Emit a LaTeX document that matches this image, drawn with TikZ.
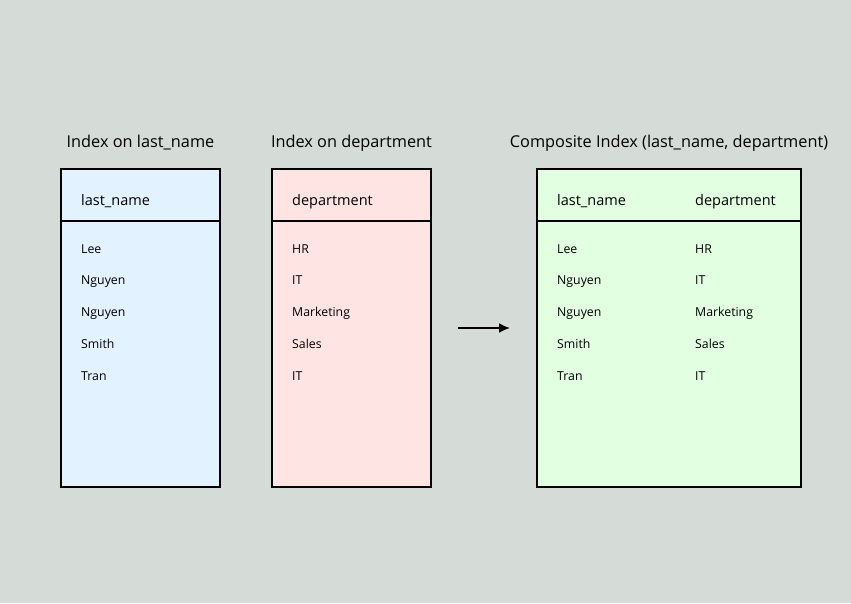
\documentclass[tikz,border=0pt]{standalone}
\usepackage{fontspec}
\setmainfont{Open Sans}
\usetikzlibrary{positioning,arrows.meta}
\definecolor{pagebg}{HTML}{D5DBD7}
\definecolor{lastfill}{HTML}{E3F2FF}
\definecolor{deptfill}{HTML}{FFE4E4}
\definecolor{compfill}{HTML}{E2FFE2}
\tikzset{
  tbl/.style={draw=black,line width=2pt,minimum height=318pt,anchor=north west,inner sep=0pt},
  ttl/.style={font=\fontsize{16.3}{19}\selectfont,inner sep=0pt,text height=1.6ex,text depth=.45ex},
  hdr/.style={font=\fontsize{14.5}{17}\selectfont,anchor=west,inner sep=0pt,text height=1.6ex,text depth=.45ex},
  cell/.style={font=\fontsize{12.3}{15}\selectfont,anchor=west,inner sep=0pt,text height=1.6ex,text depth=.45ex},
  arr/.style={line width=2pt,-{Latex[length=11pt,width=10pt]}}
}
\begin{document}
\begin{tikzpicture}[x=1pt,y=-1pt]
  \fill[pagebg] (0,0) rectangle (851,603);
  \useasboundingbox (0,0) rectangle (851,603);
  % the three index tables
  \node[tbl,fill=lastfill,minimum width=159pt] (lastbox) at (60,168) {};
  \node[tbl,fill=deptfill,minimum width=159pt] (deptbox) at (271,168) {};
  \node[tbl,fill=compfill,minimum width=264pt] (compbox) at (536,168) {};
  \foreach \b in {lastbox,deptbox,compbox}
    \draw[line width=2pt] ([yshift=-53pt]\b.north west) -- ([yshift=-53pt]\b.north east);
  % titles
  \node[ttl] (lasttitle) at ([yshift=24pt]lastbox.north) {Index on last\_name};
  \node[ttl] (depttitle) at ([yshift=24pt]deptbox.north) {Index on department};
  \node[ttl] (comptitle) at ([yshift=24pt]compbox.north) {Composite Index (last\_name, department)};
  % headers
  \node[hdr] (lasthdr) at ([xshift=21pt,yshift=-34pt]lastbox.north west) {last\_name};
  \node[hdr] (depthdr) at ([xshift=21pt,yshift=-34pt]deptbox.north west) {department};
  \node[hdr] (complhdr) at ([xshift=21pt,yshift=-34pt]compbox.north west) {last\_name};
  \node[hdr] (compdhdr) at ([xshift=159pt,yshift=-34pt]compbox.north west) {department};
  % rows
  \foreach \n/\d [count=\i] in {Lee/HR,Nguyen/IT,Nguyen/Marketing,Smith/Sales,Tran/IT}{
    \node[cell] (last\i) at ([yshift={-48pt-31.75pt*(\i-1)}]lasthdr.west) {\n};
    \node[cell] (dept\i) at ([yshift={-48pt-31.75pt*(\i-1)}]depthdr.west) {\d};
    \node[cell] (compl\i) at ([yshift={-48pt-31.75pt*(\i-1)}]complhdr.west) {\n};
    \node[cell] (compd\i) at ([yshift={-48pt-31.75pt*(\i-1)}]compdhdr.west) {\d};
  }
  % arrow
  \coordinate (arrfrom) at ([xshift=26pt]deptbox.east);
  \coordinate (arrto) at ([xshift=-26pt]compbox.west);
  \draw[arr] (arrfrom) -- (arrto);
\end{tikzpicture}
\end{document}
